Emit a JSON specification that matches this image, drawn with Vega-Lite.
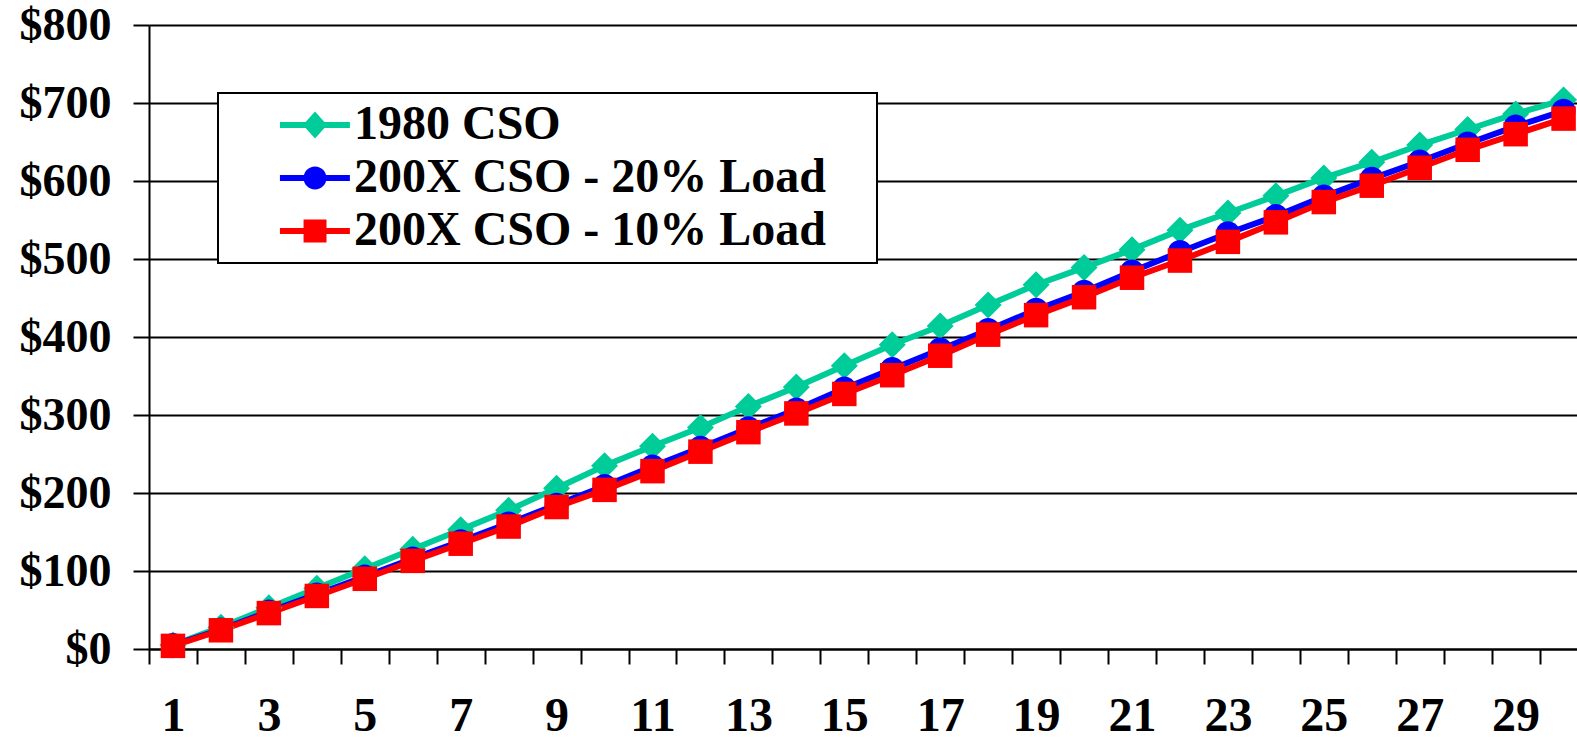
{
  "$schema": "https://vega.github.io/schema/vega-lite/v6.json",
  "width": 1428,
  "height": 624,
  "autosize": "none",
  "padding": {"left": 149, "top": 25, "right": 0, "bottom": 92},
  "background": "white",
  "config": {
    "view": {"stroke": null},
    "font": "Liberation Serif",
    "axis": {
      "labelFont": "Liberation Serif",
      "labelFontWeight": "bold",
      "labelFontSize": 48,
      "labelColor": "black",
      "domainColor": "black",
      "domainWidth": 2,
      "tickColor": "black",
      "tickWidth": 2,
      "title": null
    }
  },
  "data": {
    "values": [
      {"n": 1, "series": "1980 CSO", "value": 5},
      {"n": 2, "series": "1980 CSO", "value": 28},
      {"n": 3, "series": "1980 CSO", "value": 53},
      {"n": 4, "series": "1980 CSO", "value": 78},
      {"n": 5, "series": "1980 CSO", "value": 103},
      {"n": 6, "series": "1980 CSO", "value": 128},
      {"n": 7, "series": "1980 CSO", "value": 153},
      {"n": 8, "series": "1980 CSO", "value": 178},
      {"n": 9, "series": "1980 CSO", "value": 206},
      {"n": 10, "series": "1980 CSO", "value": 235},
      {"n": 11, "series": "1980 CSO", "value": 260},
      {"n": 12, "series": "1980 CSO", "value": 284},
      {"n": 13, "series": "1980 CSO", "value": 311},
      {"n": 14, "series": "1980 CSO", "value": 336},
      {"n": 15, "series": "1980 CSO", "value": 363},
      {"n": 16, "series": "1980 CSO", "value": 390},
      {"n": 17, "series": "1980 CSO", "value": 414},
      {"n": 18, "series": "1980 CSO", "value": 441},
      {"n": 19, "series": "1980 CSO", "value": 467},
      {"n": 20, "series": "1980 CSO", "value": 489},
      {"n": 21, "series": "1980 CSO", "value": 512},
      {"n": 22, "series": "1980 CSO", "value": 537},
      {"n": 23, "series": "1980 CSO", "value": 559},
      {"n": 24, "series": "1980 CSO", "value": 581},
      {"n": 25, "series": "1980 CSO", "value": 604},
      {"n": 26, "series": "1980 CSO", "value": 624},
      {"n": 27, "series": "1980 CSO", "value": 646},
      {"n": 28, "series": "1980 CSO", "value": 666},
      {"n": 29, "series": "1980 CSO", "value": 686},
      {"n": 30, "series": "1980 CSO", "value": 704},
      {"n": 1, "series": "200X CSO - 20% Load", "value": 5},
      {"n": 2, "series": "200X CSO - 20% Load", "value": 25},
      {"n": 3, "series": "200X CSO - 20% Load", "value": 48},
      {"n": 4, "series": "200X CSO - 20% Load", "value": 70},
      {"n": 5, "series": "200X CSO - 20% Load", "value": 93},
      {"n": 6, "series": "200X CSO - 20% Load", "value": 116},
      {"n": 7, "series": "200X CSO - 20% Load", "value": 138},
      {"n": 8, "series": "200X CSO - 20% Load", "value": 161},
      {"n": 9, "series": "200X CSO - 20% Load", "value": 185},
      {"n": 10, "series": "200X CSO - 20% Load", "value": 209},
      {"n": 11, "series": "200X CSO - 20% Load", "value": 234},
      {"n": 12, "series": "200X CSO - 20% Load", "value": 258},
      {"n": 13, "series": "200X CSO - 20% Load", "value": 283},
      {"n": 14, "series": "200X CSO - 20% Load", "value": 307},
      {"n": 15, "series": "200X CSO - 20% Load", "value": 334},
      {"n": 16, "series": "200X CSO - 20% Load", "value": 359},
      {"n": 17, "series": "200X CSO - 20% Load", "value": 384},
      {"n": 18, "series": "200X CSO - 20% Load", "value": 409},
      {"n": 19, "series": "200X CSO - 20% Load", "value": 435},
      {"n": 20, "series": "200X CSO - 20% Load", "value": 458},
      {"n": 21, "series": "200X CSO - 20% Load", "value": 484},
      {"n": 22, "series": "200X CSO - 20% Load", "value": 509},
      {"n": 23, "series": "200X CSO - 20% Load", "value": 533},
      {"n": 24, "series": "200X CSO - 20% Load", "value": 555},
      {"n": 25, "series": "200X CSO - 20% Load", "value": 580},
      {"n": 26, "series": "200X CSO - 20% Load", "value": 603},
      {"n": 27, "series": "200X CSO - 20% Load", "value": 625},
      {"n": 28, "series": "200X CSO - 20% Load", "value": 648},
      {"n": 29, "series": "200X CSO - 20% Load", "value": 670},
      {"n": 30, "series": "200X CSO - 20% Load", "value": 690},
      {"n": 1, "series": "200X CSO - 10% Load", "value": 4},
      {"n": 2, "series": "200X CSO - 10% Load", "value": 24},
      {"n": 3, "series": "200X CSO - 10% Load", "value": 46},
      {"n": 4, "series": "200X CSO - 10% Load", "value": 68},
      {"n": 5, "series": "200X CSO - 10% Load", "value": 90},
      {"n": 6, "series": "200X CSO - 10% Load", "value": 113},
      {"n": 7, "series": "200X CSO - 10% Load", "value": 135},
      {"n": 8, "series": "200X CSO - 10% Load", "value": 157},
      {"n": 9, "series": "200X CSO - 10% Load", "value": 182},
      {"n": 10, "series": "200X CSO - 10% Load", "value": 204},
      {"n": 11, "series": "200X CSO - 10% Load", "value": 228},
      {"n": 12, "series": "200X CSO - 10% Load", "value": 253},
      {"n": 13, "series": "200X CSO - 10% Load", "value": 278},
      {"n": 14, "series": "200X CSO - 10% Load", "value": 302},
      {"n": 15, "series": "200X CSO - 10% Load", "value": 327},
      {"n": 16, "series": "200X CSO - 10% Load", "value": 351},
      {"n": 17, "series": "200X CSO - 10% Load", "value": 376},
      {"n": 18, "series": "200X CSO - 10% Load", "value": 403},
      {"n": 19, "series": "200X CSO - 10% Load", "value": 428},
      {"n": 20, "series": "200X CSO - 10% Load", "value": 451},
      {"n": 21, "series": "200X CSO - 10% Load", "value": 476},
      {"n": 22, "series": "200X CSO - 10% Load", "value": 498},
      {"n": 23, "series": "200X CSO - 10% Load", "value": 522},
      {"n": 24, "series": "200X CSO - 10% Load", "value": 547},
      {"n": 25, "series": "200X CSO - 10% Load", "value": 573},
      {"n": 26, "series": "200X CSO - 10% Load", "value": 594},
      {"n": 27, "series": "200X CSO - 10% Load", "value": 617},
      {"n": 28, "series": "200X CSO - 10% Load", "value": 640},
      {"n": 29, "series": "200X CSO - 10% Load", "value": 660},
      {"n": 30, "series": "200X CSO - 10% Load", "value": 680}
    ]
  },
  "encoding": {
    "y": {
      "field": "value",
      "type": "quantitative",
      "scale": {"domain": [0, 800], "nice": false},
      "axis": {
        "values": [0, 100, 200, 300, 400, 500, 600, 700, 800],
        "labelExpr": "'$' + datum.value",
        "labelFontSize": 46,
        "grid": true,
        "gridColor": "black",
        "gridWidth": 2,
        "gridOpacity": 1,
        "tickSize": 16,
        "labelPadding": 22
      }
    },
    "color": {
      "field": "series",
      "type": "nominal",
      "scale": {
        "domain": ["1980 CSO", "200X CSO - 20% Load", "200X CSO - 10% Load"],
        "range": ["#00CC99", "#0000FF", "#FF0000"]
      },
      "legend": {
        "title": null,
        "orient": "none",
        "legendX": 69,
        "legendY": 68,
        "padding": 8,
        "rowPadding": 5,
        "fillColor": "white",
        "strokeColor": "black",
        "symbolSize": 2025,
        "symbolStrokeWidth": 0,
        "labelOffset": 80,
        "labelFont": "Liberation Serif",
        "labelFontWeight": "bold",
        "labelFontSize": 48,
        "labelColor": "black",
        "labelLimit": 0,
        "encode": {
          "legend": {"update": {"strokeWidth": {"value": 2}}},
          "symbols": {
            "update": {
              "fill": {"scale": "color", "field": "value"},
              "stroke": {"value": "transparent"},
              "strokeWidth": {"value": 0},
              "opacity": {"value": 1},
              "shape": {
                "signal": "datum.value === '1980 CSO' ? 'M1.33,-0.13H4.44V0.13H1.33Z M2.89,-0.6L3.43,0L2.89,0.6L2.35,0Z M27.5,0' : datum.value === '200X CSO - 20% Load' ? 'M1.33,-0.13H4.44V0.13H1.33Z M3.4,0A0.51,0.51,0,1,1,2.38,0A0.51,0.51,0,1,1,3.4,0Z M27.5,0' : 'M1.33,-0.13H4.44V0.13H1.33Z M2.38,-0.51H3.4V0.51H2.38Z M27.5,0'"
              }
            }
          }
        }
      }
    }
  },
  "layer": [
    {
      "mark": {"type": "line", "strokeWidth": 6},
      "encoding": {
        "x": {
          "field": "n",
          "type": "quantitative",
          "scale": {"domain": [0.5, 30.28], "nice": false, "zero": false},
          "axis": {
            "orient": "bottom",
            "values": [0.5, 1.5, 2.5, 3.5, 4.5, 5.5, 6.5, 7.5, 8.5, 9.5, 10.5, 11.5, 12.5, 13.5, 14.5, 15.5, 16.5, 17.5, 18.5, 19.5, 20.5, 21.5, 22.5, 23.5, 24.5, 25.5, 26.5, 27.5, 28.5, 29.5],
            "labels": false,
            "grid": false,
            "tickSize": 15
          }
        }
      }
    },
    {
      "transform": [{"filter": "datum.series === '1980 CSO'"}],
      "mark": {"type": "point", "shape": "diamond", "size": 729, "filled": true, "opacity": 1},
      "encoding": {
        "x": {
          "field": "n",
          "type": "quantitative",
          "axis": {
            "orient": "bottom",
            "values": [1, 3, 5, 7, 9, 11, 13, 15, 17, 19, 21, 23, 25, 27, 29],
            "ticks": false,
            "tickSize": 0,
            "domain": false,
            "grid": false,
            "labelPadding": 81,
            "labelBaseline": "alphabetic"
          }
        }
      }
    },
    {
      "transform": [{"filter": "datum.series === '200X CSO - 20% Load'"}],
      "mark": {"type": "point", "shape": "circle", "size": 576, "filled": true, "opacity": 1},
      "encoding": {
        "x": {"field": "n", "type": "quantitative", "axis": null}
      }
    },
    {
      "transform": [{"filter": "datum.series === '200X CSO - 10% Load'"}],
      "mark": {"type": "point", "shape": "square", "size": 600, "filled": true, "opacity": 1},
      "encoding": {
        "x": {"field": "n", "type": "quantitative", "axis": null}
      }
    }
  ],
  "resolve": {"axis": {"x": "independent"}}
}
